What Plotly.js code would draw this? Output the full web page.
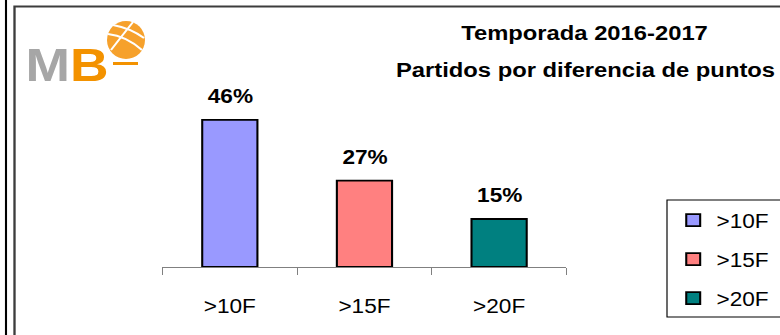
<!DOCTYPE html>
<html>
<head>
<meta charset="utf-8">
<script src="https://cdn.plot.ly/plotly-3.0.1.min.js"></script>
<style>
  html, body { margin: 0; padding: 0; overflow: hidden; background: #fff; }
  #plot { width: 672px; height: 335px; transform: scaleX(1.160714); transform-origin: 0 0; }
</style>
</head>
<body>
<div id="plot"></div>
<script>
// ---- data ----
const categories = ['>10F', '>15F', '>20F'];
const values = [46, 27, 15];
const barColors = ['#9999ff', '#ff8080', '#008080'];
const titleLine1 = 'Temporada 2016-2017';
const titleLine2 = 'Partidos por diferencia de puntos';
const valueSuffix = '%';

// ---- geometry helpers (reference pixels -> paper coords) ----
const S = 780 / 672, W = 672, H = 335;
const ML = 140, MR = 184, MT = 75, MB = 68;
const PW = W - ML - MR, PH = H - MT - MB;
const X = px => (px / S - ML) / PW;
const Y = py => (H - MB - py) / PH;
const FONT = 'Liberation Sans, Arial, sans-serif';

const traces = categories.map((c, i) => ({
  type: 'bar',
  x: [c],
  y: [values[i]],
  name: c,
  legendgroup: 'g' + i,
  width: 0.41,
  marker: { color: barColors[i], line: { color: '#000', width: 1.8 } },
  hoverinfo: 'none'
}));

const annotations = categories.map((c, i) => ({
  xref: 'x', yref: 'y', x: c, y: values[i],
  text: values[i] + valueSuffix, showarrow: false,
  xanchor: 'center', yanchor: 'bottom', yshift: 11,
  font: { family: FONT, size: 19.5, color: '#000', weight: 'bold' }
}));

annotations.push({
  xref: 'paper', yref: 'paper', x: X(585), y: Y(56),
  xanchor: 'center', yanchor: 'top', showarrow: false,
  text: titleLine2,
  font: { family: FONT, size: 20.5, color: '#000', weight: 'bold' }
});

annotations.push({
  xref: 'paper', yref: 'paper', x: X(23.5), y: Y(37.3),
  xanchor: 'left', yanchor: 'top', showarrow: false,
  text: "<span style='color:#a6a6a6'>M</span><span style='color:#f39200'>B</span>",
  font: { family: FONT, size: 46, weight: 'bold' }
});

const seam = (pts) => {
  const p = pts.map(([a, b]) => X(a).toFixed(4) + ',' + Y(b).toFixed(4));
  return 'M' + p[0] + ' Q' + p[1] + ' ' + p[2];
};

const shapes = [
  // outer black line
  { type: 'line', xref: 'paper', yref: 'paper', x0: X(6), x1: X(6), y0: Y(-5), y1: Y(345),
    line: { color: '#000', width: 1.8 } },
  // gray frame
  { type: 'path', xref: 'paper', yref: 'paper',
    path: 'M' + X(14.5) + ',' + Y(345) + ' L' + X(14.5) + ',' + Y(6.5) + ' L' + X(800) + ',' + Y(6.5),
    line: { color: '#3c3c3c', width: 2 } },
  // legend box
  { type: 'rect', xref: 'paper', yref: 'paper', x0: X(667), x1: X(820), y0: Y(200), y1: Y(317),
    line: { color: '#000', width: 1 }, fillcolor: 'rgba(0,0,0,0)' },
  // logo ball
  { type: 'circle', xref: 'paper', yref: 'paper', x0: X(107), x1: X(145), y0: Y(21), y1: Y(59),
    fillcolor: '#f6a12c', line: { width: 0 } },
  { type: 'path', xref: 'paper', yref: 'paper', path: seam([[108, 34], [126, 36], [142, 50]]),
    line: { color: '#fff', width: 1.8 } },
  { type: 'path', xref: 'paper', yref: 'paper', path: seam([[113, 25], [130, 28], [144, 38]]),
    line: { color: '#fff', width: 1.8 } },
  { type: 'path', xref: 'paper', yref: 'paper', path: seam([[111, 50], [121, 37], [133, 22]]),
    line: { color: '#fff', width: 1.8 } },
  { type: 'line', xref: 'paper', yref: 'paper', x0: X(113), x1: X(138), y0: Y(63.5), y1: Y(63.5),
    line: { color: '#f39200', width: 3 } }
];

const layout = {
  width: W, height: H,
  margin: { l: ML, r: MR, t: MT, b: MB, autoexpand: false },
  paper_bgcolor: '#fff', plot_bgcolor: '#fff',
  font: { family: FONT, color: '#000' },
  title: {
    text: titleLine1, xref: 'container', yref: 'container',
    x: 584.5 / 780, xanchor: 'center', y: 1 - 26 / 335, yanchor: 'top',
    font: { family: FONT, size: 20.5, color: '#000', weight: 'bold' }
  },
  barmode: 'overlay',
  showlegend: true,
  legend: {
    x: X(670), y: Y(201), xanchor: 'left', yanchor: 'top',
    bgcolor: 'rgba(0,0,0,0)', borderwidth: 0,
    font: { family: FONT, size: 19.5, color: '#000' },
    tracegroupgap: 10.6, traceorder: 'grouped'
  },
  xaxis: {
    type: 'category', range: [-0.5, 2.5], fixedrange: true,
    showline: true, linecolor: '#808080', linewidth: 1,
    ticks: 'outside', tickson: 'boundaries', ticklen: 7, tickcolor: '#808080', tickwidth: 1,
    tickfont: { family: FONT, size: 19.5, color: '#000' },
    ticklabelstandoff: 22,
    showgrid: false, zeroline: false
  },
  yaxis: { range: [0, 60], visible: false, fixedrange: true, showgrid: false, zeroline: false },
  annotations: annotations,
  shapes: shapes
};

Plotly.newPlot('plot', traces, layout, { displayModeBar: false, staticPlot: true });
</script>
</body>
</html>
